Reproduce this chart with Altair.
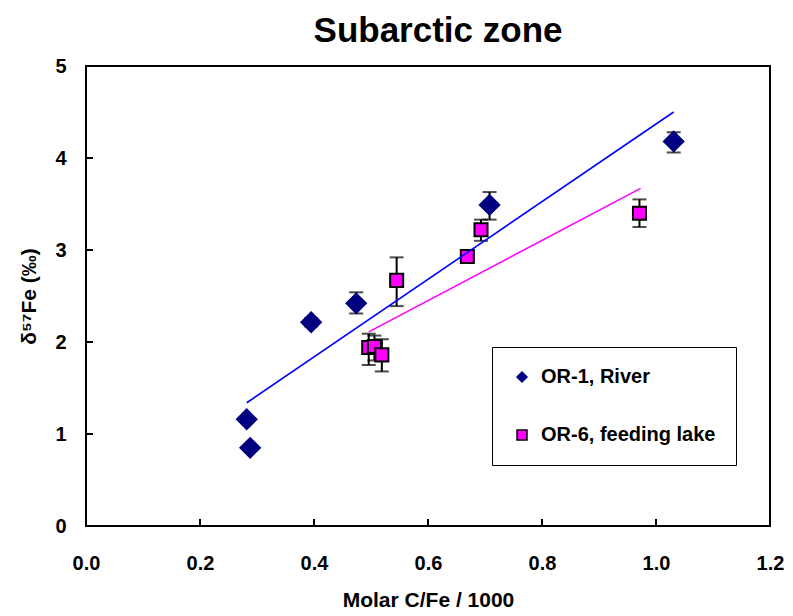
import altair as alt
import pandas as pd

# ---- data ----
series_names = ["OR-1, River", "OR-6, feeding lake"]

river_x = [0.282, 0.288, 0.395, 0.474, 0.708, 1.031]
river_y = [1.16, 0.85, 2.215, 2.42, 3.49, 4.18]
river_lo = [None, None, 2.17, 2.31, 3.33, 4.06]
river_hi = [None, None, 2.26, 2.54, 3.63, 4.28]

lake_x = [0.496, 0.506, 0.519, 0.545, 0.669, 0.693, 0.971]
lake_y = [1.94, 1.95, 1.86, 2.67, 2.93, 3.22, 3.40]
lake_lo = [1.75, 1.80, 1.68, 2.39, 2.89, 3.10, 3.25]
lake_hi = [2.09, 2.07, 2.03, 2.92, 2.97, 3.33, 3.55]

blue_fit_x = [0.282, 1.031]
blue_fit_y = [1.34, 4.50]
pink_fit_x = [0.496, 0.973]
pink_fit_y = [2.11, 3.67]

x_ticks = [0.0, 0.2, 0.4, 0.6, 0.8, 1.0, 1.2]
y_ticks = [0, 1, 2, 3, 4, 5]

# ---- tables ----
river_df = pd.DataFrame({"x": river_x, "y": river_y, "lo": river_lo, "hi": river_hi,
                         "series": series_names[0]})
lake_df = pd.DataFrame({"x": lake_x, "y": lake_y, "lo": lake_lo, "hi": lake_hi,
                        "series": series_names[1]})
pts = pd.concat([river_df, lake_df], ignore_index=True)
err_df = pts.dropna(subset=["lo", "hi"])
blue_df = pd.DataFrame({"x": blue_fit_x, "y": blue_fit_y})
pink_df = pd.DataFrame({"x": pink_fit_x, "y": pink_fit_y})
xt_df = pd.DataFrame({"v": x_ticks})
yt_df = pd.DataFrame({"v": y_ticks})

FONT = "Liberation Sans"
W, H = 684, 460

xscale = alt.Scale(domain=[0, 1.2], nice=False, zero=False)
yscale = alt.Scale(domain=[0, 5], nice=False, zero=False)

xaxis = alt.Axis(values=x_ticks, format=".1f", ticks=False, tickSize=0, domain=False,
                 grid=False, labelFlush=False, labelOverlap=False, labelPadding=27,
                 titlePadding=16)
yaxis = alt.Axis(values=y_ticks, format="d", ticks=False, tickSize=0, domain=False,
                 grid=False, labelFlush=False, labelOverlap=False, labelPadding=20,
                 titlePadding=15)

X_TITLE = "Molar C/Fe / 1000"
Y_TITLE = "δ⁵⁷Fe (‰)"


def xenc(field="x"):
    return alt.X(f"{field}:Q", scale=xscale, axis=xaxis, title=X_TITLE)


def yenc(field="y"):
    return alt.Y(f"{field}:Q", scale=yscale, axis=yaxis, title=Y_TITLE)


# inward tick marks
xticks_layer = alt.Chart(xt_df).mark_rule(color="black", strokeWidth=2).encode(
    x=alt.X("v:Q", scale=xscale, axis=xaxis, title=X_TITLE),
    y=alt.value(H), y2=alt.value(H - 7),
)
yticks_layer = alt.Chart(yt_df).mark_rule(color="black", strokeWidth=2).encode(
    y=alt.Y("v:Q", scale=yscale, axis=yaxis, title=Y_TITLE),
    x=alt.value(0), x2=alt.value(7),
)

err = alt.Chart(err_df).mark_errorbar(
    ticks={"size": 14, "color": "black"}, thickness=2, color="black"
).encode(
    x=xenc(),
    y=alt.Y("lo:Q", scale=yscale, axis=yaxis, title=Y_TITLE),
    y2="hi:Q",
)

legend = alt.Legend(title=None, symbolSize=100)
color_scale = alt.Scale(domain=series_names, range=["#000080", "#FF00FF"])
shape_scale = alt.Scale(domain=series_names, range=["diamond", "square"])
stroke_scale = alt.Scale(domain=series_names, range=["#000080", "#000000"])


def point_layer(df, size):
    return alt.Chart(df).mark_point(filled=True, strokeWidth=2, opacity=1, size=size).encode(
        x=xenc(),
        y=yenc(),
        color=alt.Color("series:N", scale=color_scale, legend=legend),
        shape=alt.Shape("series:N", scale=shape_scale, legend=legend),
        stroke=alt.Stroke("series:N", scale=stroke_scale, legend=legend),
    )


river_pts = point_layer(river_df, 380)
lake_pts = point_layer(lake_df, 170)

blue_line = alt.Chart(blue_df).mark_line(color="#0000FF", strokeWidth=1.6).encode(x=xenc(), y=yenc())
pink_line = alt.Chart(pink_df).mark_line(color="#FF00FF", strokeWidth=1.6).encode(x=xenc(), y=yenc())

chart = alt.layer(
    xticks_layer, yticks_layer, err, river_pts, lake_pts, blue_line, pink_line
).properties(
    width=W,
    height=H,
    title=alt.TitleParams("Subarctic zone", fontSize=35, font=FONT, fontWeight="bold",
                          anchor="middle", frame="group", dx=10, offset=7, color="black"),
    padding={"left": 78, "top": 58, "right": 15, "bottom": 86},
    autosize=alt.AutoSizeParams(type="none"),
).configure_view(
    stroke="black", strokeWidth=2
).configure_axis(
    labelFont=FONT, labelFontSize=20, labelFontWeight="bold", labelColor="black",
    titleFont=FONT, titleFontSize=21, titleFontWeight="bold", titleColor="black",
).configure_legend(
    orient="none", legendX=406, legendY=281,
    padding=20, rowPadding=38, strokeColor="black", strokeWidth=1, fillColor="white",
    cornerRadius=0, symbolSize=100, symbolStrokeWidth=1.5, labelOffset=9, labelLimit=400,
    labelFont=FONT, labelFontSize=20, labelFontWeight="bold", labelColor="black",
)

chart.save("out.html", embed_options={"renderer": "svg", "actions": False})
